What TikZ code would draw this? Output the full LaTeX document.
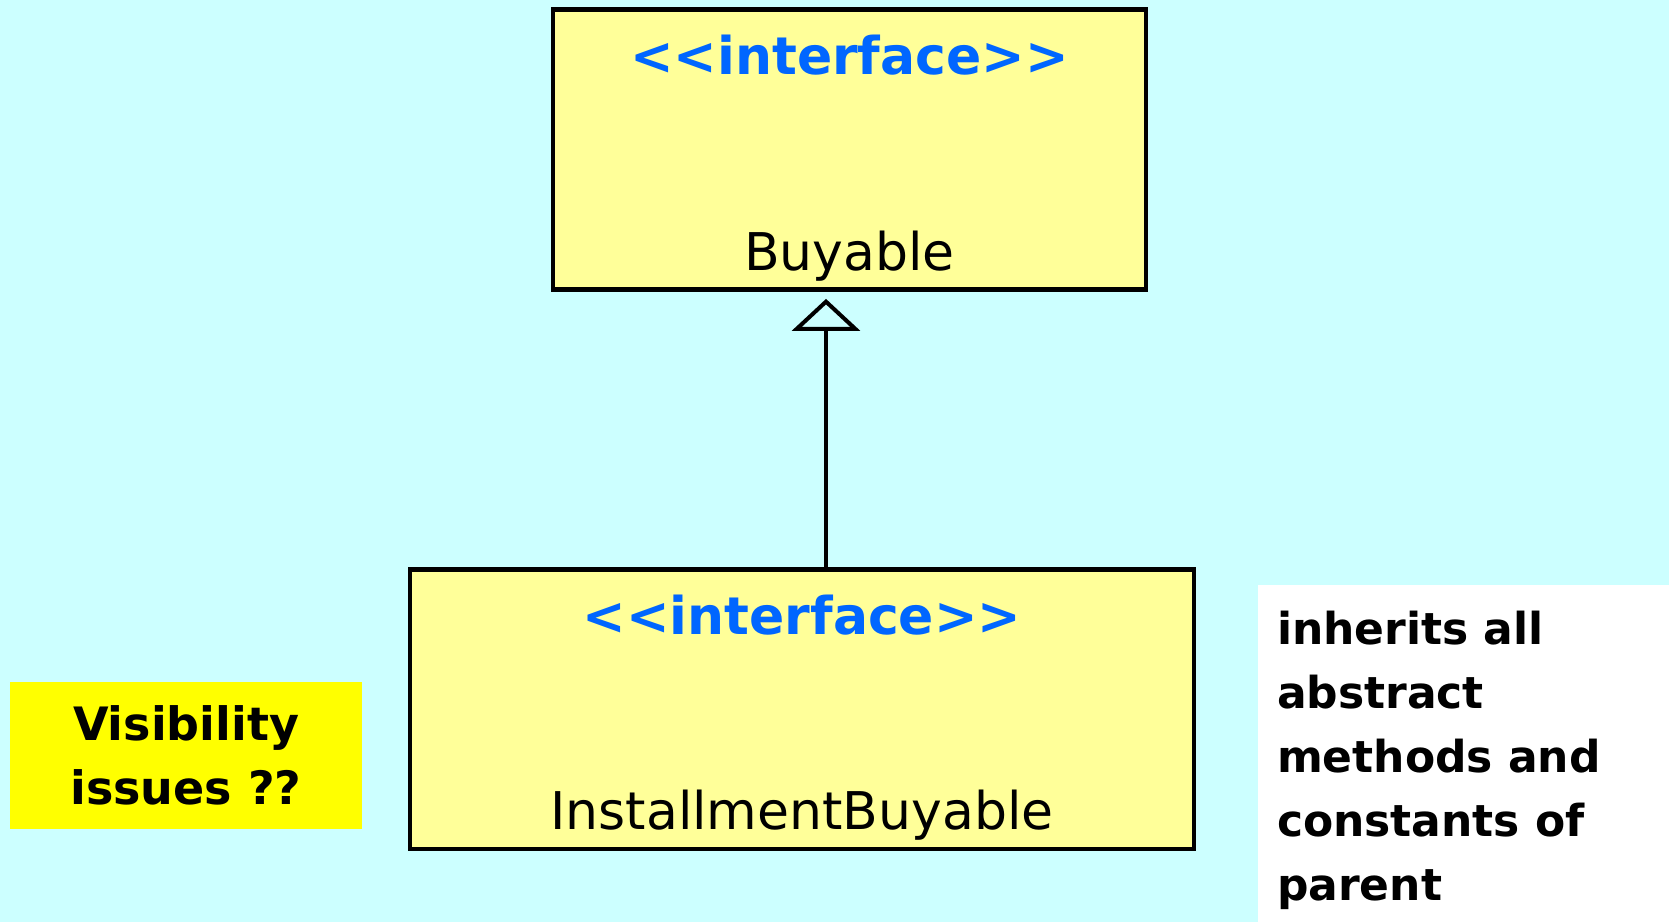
\documentclass[tikz,border=0pt]{standalone}
\usepackage{fontspec}
\setmainfont{DejaVu Sans}
\usepackage{tikz}
\usetikzlibrary{arrows.meta, positioning}
\usepackage{xcolor}
\definecolor{PageBg}{HTML}{CCFFFF}
\definecolor{IfaceFill}{HTML}{FFFF99}
\definecolor{StereoBlue}{HTML}{0066FF}
\definecolor{NoteYellow}{HTML}{FFFF00}
\newcommand{\stereotag}{<{}<interface>{}>}
\tikzset{
  ibox/.style={draw=black, line width=2.4pt, fill=IfaceFill, inner sep=0pt},
  stereo/.style={anchor=base, text=StereoBlue, font=\fontsize{26}{30}\selectfont\bfseries},
  iname/.style={anchor=base, font=\fontsize{26}{30}\selectfont},
  realize/.style={line width=2pt, shorten >=3.5pt,
    -{Triangle[open, length=16pt, width=34pt, line width=2pt]}},
  notebox/.style={align=center, inner sep=0pt,
    font=\fontsize{23}{32}\selectfont\bfseries},
  notetext/.style={align=left, anchor=west, inner sep=0pt,
    font=\fontsize{22}{32}\selectfont\bfseries},
}

\begin{document}
\begin{tikzpicture}[x=0.5pt, y=-0.5pt]
    \fill[PageBg] (0,0) rectangle (1669,922);
    \useasboundingbox (0,0) rectangle (1669,922);

    % the two interfaces
    \node[ibox, minimum width=296.5pt, minimum height=140pt] (buyable) at (849.5,149.5) {};
    \node[stereo, yshift=-33.5pt] (buyst) at (buyable.north) {\stereotag};
    \node[iname, yshift=10.75pt] (buyname) at (buyable.south) {Buyable};

    \node[ibox, minimum width=392pt, minimum height=139.75pt] (inst) at (802,709.25) {};
    \node[stereo, yshift=-33.5pt] (instst) at (inst.north) {\stereotag};
    \node[iname, yshift=10.75pt] (instname) at (inst.south) {InstallmentBuyable};

    % generalization arrow
    \coordinate (mid) at (826,0);
    \draw[realize] (inst.north -| mid) -- (buyable.south -| mid);

    % side notes
    \node[notebox, fill=NoteYellow, minimum width=176pt, minimum height=73.5pt]
      (vis) at (186,755.5) {Visibility\\issues ??};
    \node[fill=white, minimum width=205.5pt, minimum height=168.5pt]
      (note) at (1463.5,753.5) {};
    \node[notetext, xshift=9.5pt, yshift=-3.5pt] (notetxt) at (note.west)
      {inherits all\\abstract\\methods and\\constants of\\parent};
\end{tikzpicture}
\end{document}
